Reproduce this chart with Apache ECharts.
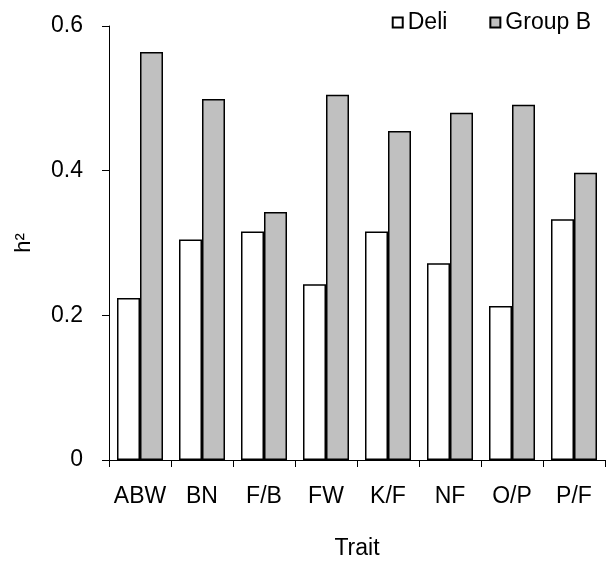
<!DOCTYPE html>
<html>
<head>
<meta charset="utf-8">
<script src="https://cdn.jsdelivr.net/npm/echarts@6/dist/echarts.min.js"></script>
<style>
html,body{margin:0;padding:0;background:#fff;}
#chart{width:606px;height:565px;}
</style>
</head>
<body>
<div id="chart"></div>
<script>
const categories = ['ABW', 'BN', 'F/B', 'FW', 'K/F', 'NF', 'O/P', 'P/F'];
const deli = [0.224, 0.305, 0.316, 0.243, 0.316, 0.272, 0.213, 0.333];
const groupB = [0.564, 0.499, 0.343, 0.505, 0.455, 0.480, 0.491, 0.397];
const seriesNames = ['Deli', 'Group B'];
const yTicks = { min: 0, max: 0.6, interval: 0.2 };

const FONT = '"Liberation Sans", Arial, sans-serif';
const chart = echarts.init(document.getElementById('chart'), null, { renderer: 'canvas' });
chart.setOption({
  animation: false,
  backgroundColor: '#fff',
  textStyle: { fontFamily: FONT, color: '#000' },
  legend: {
    data: seriesNames,
    right: 10,
    top: 6,
    icon: 'rect',
    itemWidth: 10,
    itemHeight: 10,
    itemGap: 42,
    textStyle: { fontFamily: FONT, fontSize: 23, color: '#000' }
  },
  grid: { left: 109, right: 1, top: 26, bottom: 100, containLabel: false },
  xAxis: {
    type: 'category',
    data: categories,
    name: 'Trait',
    nameLocation: 'middle',
    nameGap: 77,
    nameTextStyle: { fontFamily: FONT, fontSize: 23, color: '#000' },
    axisLine: { lineStyle: { color: '#000', width: 1 } },
    axisTick: { show: true, length: 7, interval: 0, lineStyle: { color: '#000' } },
    axisLabel: { interval: 0, fontFamily: FONT, fontSize: 23, color: '#000', margin: 25 }
  },
  yAxis: {
    type: 'value',
    min: yTicks.min,
    max: yTicks.max,
    interval: yTicks.interval,
    name: 'h²',
    nameLocation: 'middle',
    nameGap: 74,
    nameRotate: 90,
    nameTextStyle: { fontFamily: FONT, fontSize: 22, color: '#000' },
    axisLine: { show: true, lineStyle: { color: '#000', width: 1 } },
    axisTick: { show: true, length: 7, lineStyle: { color: '#000' } },
    splitLine: { show: false },
    axisLabel: { fontFamily: FONT, fontSize: 23, color: '#000', margin: 26 }
  },
  series: [
    {
      name: seriesNames[0],
      type: 'bar',
      data: deli,
      barWidth: 23,
      barGap: '0%',
      itemStyle: { color: '#ffffff', borderColor: '#000', borderWidth: 1.5 }
    },
    {
      name: seriesNames[1],
      type: 'bar',
      data: groupB,
      barWidth: 23,
      barGap: '0%',
      itemStyle: { color: '#c0c0c0', borderColor: '#000', borderWidth: 1.5 }
    }
  ]
});
</script>
</body>
</html>
